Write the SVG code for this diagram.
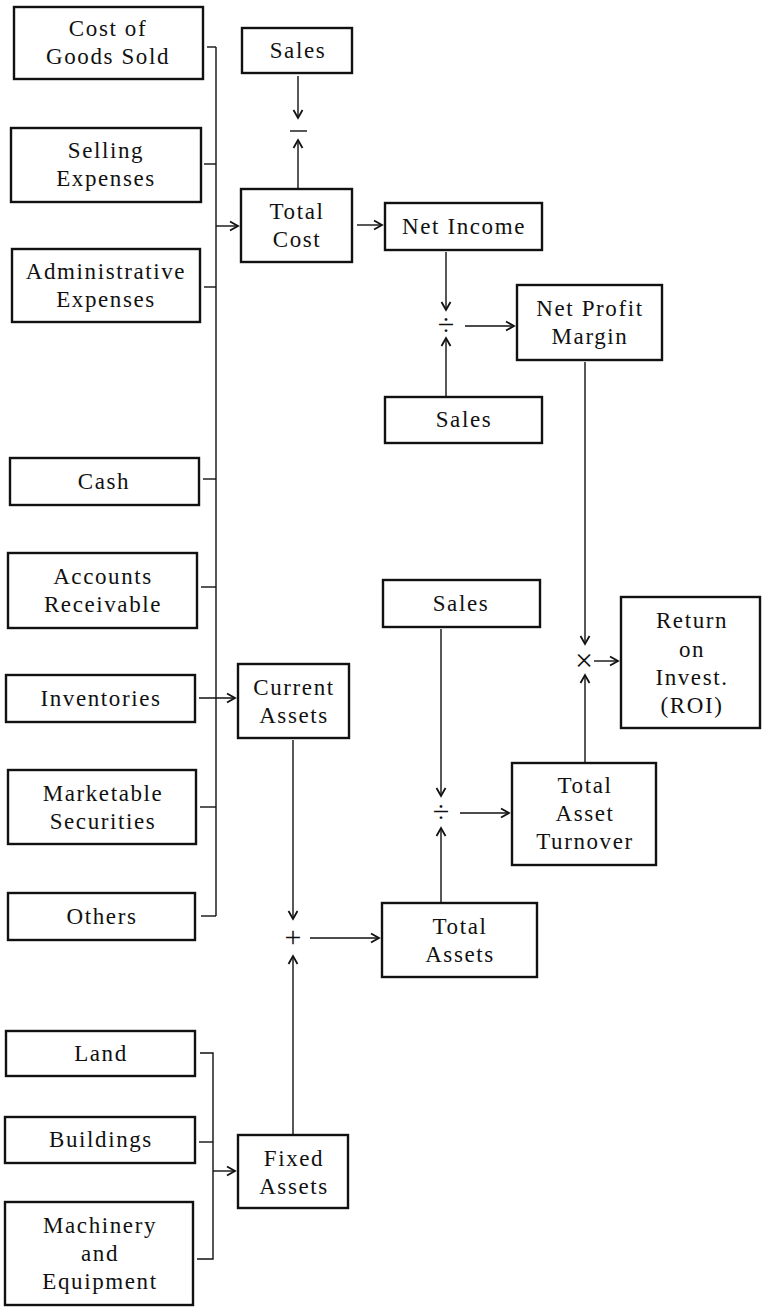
<svg xmlns="http://www.w3.org/2000/svg" width="767" height="1311" viewBox="0 0 767 1311">
<style>
.b rect{fill:#fff;stroke:#111;stroke-width:2.4}
.b text{font-size:23px;fill:#111;text-anchor:middle;letter-spacing:1.6px}
.op{fill:#111;text-anchor:middle}
.c line,.c path{stroke:#111;stroke-width:1.4;fill:none}
.a{marker-end:url(#ah)}
</style>
<defs>
<marker id="ah" markerUnits="userSpaceOnUse" markerWidth="12" markerHeight="12" refX="10" refY="6" orient="auto">
<path d="M2,1.5 L10,6 L2,10.5" fill="none" stroke="#111" stroke-width="1.8"/>
</marker>
</defs>
<g class="c" id="connectors">
<line x1="216" y1="47" x2="216" y2="916"/>
<line x1="207" y1="47" x2="216" y2="47"/>
<line x1="204" y1="164" x2="216" y2="164"/>
<line x1="204" y1="287" x2="216" y2="287"/>
<line x1="203" y1="479" x2="216" y2="479"/>
<line x1="201" y1="587" x2="216" y2="587"/>
<line x1="200" y1="807" x2="216" y2="807"/>
<line x1="201" y1="916" x2="216" y2="916"/>
<line class="a" x1="199" y1="698" x2="235" y2="698"/>
<line class="a" x1="216" y1="226" x2="238" y2="226"/>
<line class="a" x1="298" y1="76" x2="298" y2="118"/>
<line class="a" x1="298" y1="188" x2="298" y2="140"/>
<line class="a" x1="357" y1="225" x2="382" y2="225"/>
<line class="a" x1="446" y1="252" x2="446" y2="310"/>
<line class="a" x1="446" y1="396" x2="446" y2="338"/>
<line class="a" x1="465" y1="326" x2="514" y2="326"/>
<line class="a" x1="585" y1="362" x2="585" y2="644"/>
<line class="a" x1="585" y1="762" x2="585" y2="675"/>
<line class="a" x1="594" y1="661" x2="618" y2="661"/>
<line class="a" x1="441" y1="629" x2="441" y2="796"/>
<line class="a" x1="441" y1="902" x2="441" y2="828"/>
<line class="a" x1="460" y1="813" x2="509" y2="813"/>
<line class="a" x1="293" y1="740" x2="293" y2="919"/>
<line class="a" x1="293" y1="1134" x2="293" y2="956"/>
<line class="a" x1="310" y1="938" x2="379" y2="938"/>
<path d="M200,1053 H213 V1259 H197"/>
<line x1="199" y1="1142" x2="213" y2="1142"/>
<line class="a" x1="213" y1="1171" x2="235" y2="1171"/>
<line x1="290" y1="131" x2="307" y2="131" stroke-width="2"/>
</g>
<g font-family="'Liberation Serif', 'DejaVu Serif', serif">
<g id="operators">
<text class="op" x="446" y="335" font-size="30">÷</text>
<text class="op" x="584" y="671" font-size="32">×</text>
<text class="op" x="441" y="822" font-size="30">÷</text>
<text class="op" x="293" y="947" font-size="30">+</text>
</g>
<g class="b" id="cogs"><rect x="14" y="7" width="189" height="72"/><text x="108" y="36">Cost of</text><text x="108" y="64">Goods Sold</text></g>
<g class="b" id="selling"><rect x="11" y="128" width="190" height="74"/><text x="106" y="158">Selling</text><text x="106" y="186">Expenses</text></g>
<g class="b" id="admin"><rect x="12" y="249" width="188" height="73"/><text x="106" y="279">Administrative</text><text x="106" y="307">Expenses</text></g>
<g class="b" id="cash"><rect x="10" y="458" width="189" height="47"/><text x="104" y="489">Cash</text></g>
<g class="b" id="ar"><rect x="8" y="553" width="189" height="75"/><text x="103" y="584">Accounts</text><text x="103" y="612">Receivable</text></g>
<g class="b" id="inventories"><rect x="6" y="675" width="189" height="47"/><text x="101" y="706">Inventories</text></g>
<g class="b" id="marketable"><rect x="8" y="770" width="188" height="74"/><text x="103" y="801">Marketable</text><text x="103" y="829">Securities</text></g>
<g class="b" id="others"><rect x="8" y="893" width="187" height="47"/><text x="102" y="924">Others</text></g>
<g class="b" id="land"><rect x="6" y="1031" width="189" height="45"/><text x="101" y="1061">Land</text></g>
<g class="b" id="buildings"><rect x="5" y="1117" width="190" height="46"/><text x="101" y="1147">Buildings</text></g>
<g class="b" id="machinery"><rect x="5" y="1202" width="188" height="103"/><text x="100" y="1233">Machinery</text><text x="100" y="1261">and</text><text x="100" y="1289">Equipment</text></g>
<g class="b" id="sales1"><rect x="242" y="28" width="110" height="45"/><text x="298" y="58">Sales</text></g>
<g class="b" id="totalcost"><rect x="241" y="189" width="111" height="73"/><text x="297" y="219">Total</text><text x="297" y="247">Cost</text></g>
<g class="b" id="netincome"><rect x="385" y="203" width="157" height="47"/><text x="464" y="234">Net Income</text></g>
<g class="b" id="npm"><rect x="517" y="285" width="145" height="75"/><text x="590" y="316">Net Profit</text><text x="590" y="344">Margin</text></g>
<g class="b" id="sales2"><rect x="385" y="397" width="157" height="46"/><text x="464" y="427">Sales</text></g>
<g class="b" id="sales3"><rect x="383" y="580" width="157" height="47"/><text x="461" y="611">Sales</text></g>
<g class="b" id="roi"><rect x="621" y="597" width="139" height="131"/><text x="692" y="628">Return</text><text x="692" y="657">on</text><text x="692" y="685">Invest.</text><text x="692" y="713">(ROI)</text></g>
<g class="b" id="tat"><rect x="512" y="763" width="144" height="102"/><text x="585" y="793">Total</text><text x="585" y="821">Asset</text><text x="585" y="849">Turnover</text></g>
<g class="b" id="currentassets"><rect x="238" y="664" width="111" height="74"/><text x="294" y="695">Current</text><text x="294" y="723">Assets</text></g>
<g class="b" id="totalassets"><rect x="382" y="903" width="155" height="74"/><text x="460" y="934">Total</text><text x="460" y="962">Assets</text></g>
<g class="b" id="fixedassets"><rect x="238" y="1135" width="110" height="73"/><text x="294" y="1166">Fixed</text><text x="294" y="1194">Assets</text></g>
</g>
</svg>
